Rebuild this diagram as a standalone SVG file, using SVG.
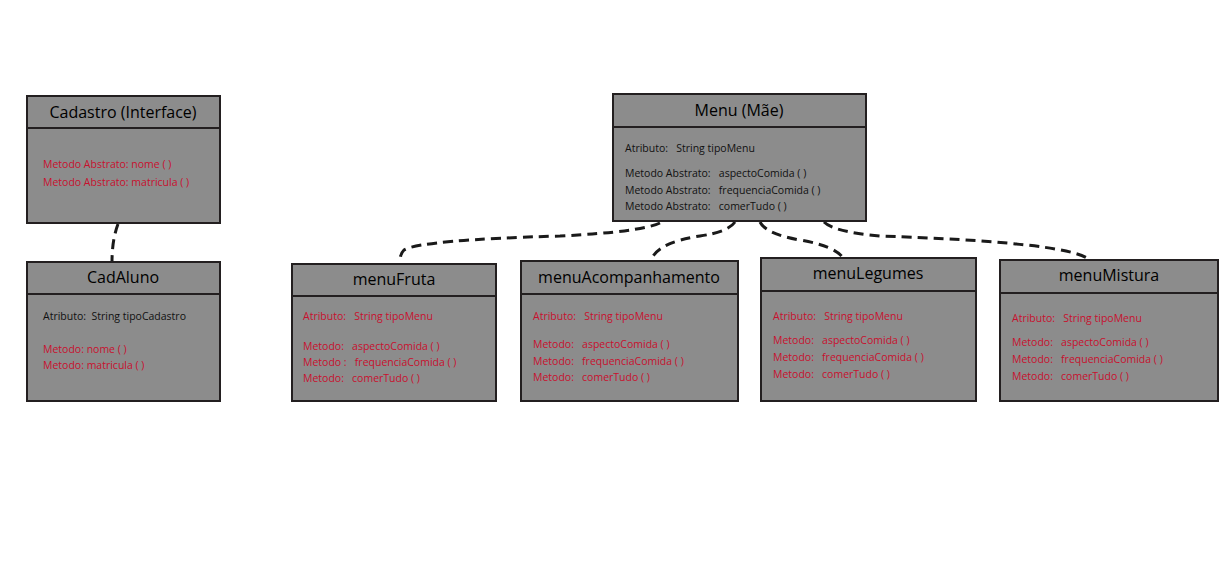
<svg xmlns="http://www.w3.org/2000/svg" width="1232" height="576" viewBox="0 0 1232 576">
<style>
.box{fill:#8c8c8c;stroke:#231f20;stroke-width:2}
.div{stroke:#231f20;stroke-width:2}
.title{font-family:"Open Sans","Liberation Sans",sans-serif;font-size:16px;fill:#000;text-anchor:middle}
.t{font-family:"Open Sans","Liberation Sans",sans-serif;font-size:10.5px;fill:#111;white-space:pre}
.r{font-family:"Open Sans","Liberation Sans",sans-serif;font-size:10.5px;fill:#c8102e;white-space:pre}
.con{fill:none;stroke:#1a1a1a;stroke-width:3;stroke-dasharray:10 6}
</style>
<rect width="1232" height="576" fill="#fff"/>
<g id="connectors">
<path class="con" d="M118,224 Q112,240 112,262"/>
<path class="con" d="M660,223 Q640,232 560,236 Q420,240 404,250 Q399,255 401,262"/>
<path class="con" d="M735,222 Q728,232 700,236 Q660,242 652,258"/>
<path class="con" d="M760,222 Q766,234 800,240 Q835,246 843,258"/>
<path class="con" d="M824,222 Q834,232 880,236 Q1060,242 1087,258"/>
</g>
<g id="cadastro">
<rect class="box" x="27" y="96" width="193" height="127"/>
<line class="div" x1="27" y1="128" x2="220" y2="128"/>
<text class="title" x="123" y="118">Cadastro (Interface)</text>
<text class="r" x="43" y="168" xml:space="preserve">Metodo Abstrato: nome ( )</text>
<text class="r" x="43" y="186" xml:space="preserve">Metodo Abstrato: matricula ( )</text>
</g>
<g id="cadaluno">
<rect class="box" x="27" y="262" width="193" height="139"/>
<line class="div" x1="27" y1="294" x2="220" y2="294"/>
<text class="title" x="123" y="283">CadAluno</text>
<text class="t" x="43" y="320" xml:space="preserve">Atributo:  String tipoCadastro</text>
<text class="r" x="43" y="353" xml:space="preserve">Metodo: nome ( )</text>
<text class="r" x="43" y="369" xml:space="preserve">Metodo: matricula ( )</text>
</g>
<g id="menu">
<rect class="box" x="613" y="94" width="253" height="127"/>
<line class="div" x1="613" y1="127" x2="866" y2="127"/>
<text class="title" x="739" y="116">Menu (Mãe)</text>
<text class="t" x="625" y="152" xml:space="preserve">Atributo:   String tipoMenu</text>
<text class="t" x="625" y="177" xml:space="preserve">Metodo Abstrato:   aspectoComida ( )</text>
<text class="t" x="625" y="194" xml:space="preserve">Metodo Abstrato:   frequenciaComida ( )</text>
<text class="t" x="625" y="210" xml:space="preserve">Metodo Abstrato:   comerTudo ( )</text>
</g>
<g id="menuFruta">
<rect class="box" x="292" y="264" width="204" height="137"/>
<line class="div" x1="292" y1="296" x2="496" y2="296"/>
<text class="title" x="394" y="285">menuFruta</text>
<text class="r" x="303" y="320" xml:space="preserve">Atributo:   String tipoMenu</text>
<text class="r" x="303" y="350" xml:space="preserve">Metodo:   aspectoComida ( )</text>
<text class="r" x="303" y="366" xml:space="preserve">Metodo :   frequenciaComida ( )</text>
<text class="r" x="303" y="382" xml:space="preserve">Metodo:   comerTudo ( )</text>
</g>
<g id="menuAcompanhamento">
<rect class="box" x="521" y="261" width="217" height="140"/>
<line class="div" x1="521" y1="294" x2="738" y2="294"/>
<text class="title" x="629" y="283">menuAcompanhamento</text>
<text class="r" x="533" y="320" xml:space="preserve">Atributo:   String tipoMenu</text>
<text class="r" x="533" y="348" xml:space="preserve">Metodo:   aspectoComida ( )</text>
<text class="r" x="533" y="365" xml:space="preserve">Metodo:   frequenciaComida ( )</text>
<text class="r" x="533" y="381" xml:space="preserve">Metodo:   comerTudo ( )</text>
</g>
<g id="menuLegumes">
<rect class="box" x="761" y="258" width="215" height="143"/>
<line class="div" x1="761" y1="291" x2="976" y2="291"/>
<text class="title" x="868" y="279">menuLegumes</text>
<text class="r" x="773" y="320" xml:space="preserve">Atributo:   String tipoMenu</text>
<text class="r" x="773" y="344" xml:space="preserve">Metodo:   aspectoComida ( )</text>
<text class="r" x="773" y="361" xml:space="preserve">Metodo:   frequenciaComida ( )</text>
<text class="r" x="773" y="378" xml:space="preserve">Metodo:   comerTudo ( )</text>
</g>
<g id="menuMistura">
<rect class="box" x="1000" y="260" width="218" height="141"/>
<line class="div" x1="1000" y1="293" x2="1218" y2="293"/>
<text class="title" x="1109" y="281">menuMistura</text>
<text class="r" x="1012" y="322" xml:space="preserve">Atributo:   String tipoMenu</text>
<text class="r" x="1012" y="346" xml:space="preserve">Metodo:   aspectoComida ( )</text>
<text class="r" x="1012" y="363" xml:space="preserve">Metodo:   frequenciaComida ( )</text>
<text class="r" x="1012" y="380" xml:space="preserve">Metodo:   comerTudo ( )</text>
</g>
</svg>
